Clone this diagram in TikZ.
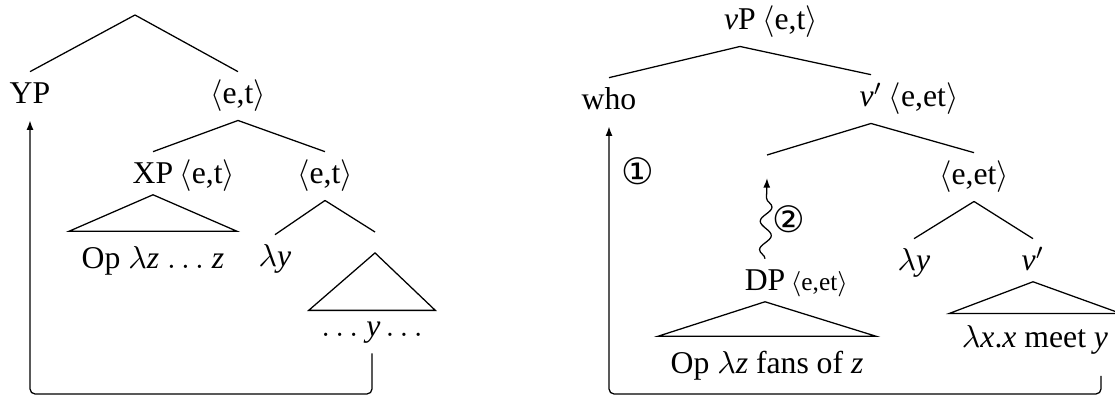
\documentclass[tikz,border=0pt]{standalone}
\usepackage{fontspec}
\setmainfont{Liberation Serif}
\newfontfamily\circfont{DejaVu Sans}
\usetikzlibrary{positioning,arrows.meta,decorations.pathmorphing}

\begin{document}
\begin{tikzpicture}[x=0.3155pt, y=-0.3155pt,
        lab/.style={anchor=base, inner sep=0pt, text height=10pt, text depth=5pt},
        leaf/.style={anchor=base, inner xsep=3.8pt, inner ysep=0pt, text height=#1, text depth=5pt},
        arr/.style={-{Latex[length=3pt,width=2.2pt]}},
        wavy/.style={arr, decorate, decoration={snake, amplitude=1.8pt, segment length=9pt, post length=2.5pt}},
        num/.style={font=\circfont\fontsize{11.5}{12}\selectfont, inner sep=0pt}]
        \useasboundingbox (0,0) rectangle (1115,396);

        \coordinate (lroot) at (135,15);
        \node[lab] (yp) at (30,104) {YP};
        \node[lab] (let) at (238,104) {$\langle$e,t$\rangle$};
        \node[lab] (xp) at (153,184) {XP};
        \node[lab, right=1.6pt of xp] (xpt) {$\langle$e,t$\rangle$};
        \node[lab] (lr) at (325,184) {$\langle$e,t$\rangle$};
        \node[leaf=11.7pt] (opz) at (153,269) {Op $\lambda$\textit{z} $\ldots$\ \textit{z}};
        \node[lab] (ly) at (275,267) {$\lambda$\textit{y}};
        \coordinate (lrr) at (375,232);
        \node[leaf=8.2pt] (ydots) at (372,337) {$\ldots$\ \textit{y}\,$\ldots$};
        \coordinate (lbot) at (30,394);

        \node[lab] (vp) at (740,30) {\textit{v}P};
        \node[lab, right=1.6pt of vp] (vpt) {$\langle$e,t$\rangle$};
        \node[lab] (who) at (609,110) {who};
        \node[lab] (vbar) at (871,107) {\textit{v}$'$};
        \node[lab, right=1.6pt of vbar] (vbart) {$\langle$e,et$\rangle$};
        \coordinate (vl) at (767,155);
        \node[lab] (ret) at (974,185) {$\langle$e,et$\rangle$};
        \node[lab] (dp) at (765,291) {DP};
        \node[lab, right=1.4pt of dp, font=\footnotesize] (dpt) {$\langle$e,et$\rangle$};
        \node[leaf=11.7pt] (fans) at (767,374) {Op $\lambda$\textit{z} fans of \textit{z}};
        \node[lab] (ry) at (914,271) {$\lambda$\textit{y}};
        \node[lab] (vbarr) at (1033,271) {\textit{v}$'$};
        \node[leaf=10.7pt] (meet) at (1035,348) {$\lambda$\textit{x}.\textit{x} meet \textit{y}};
        \coordinate (ytr) at (1101,376);
        \coordinate (rbot) at (609,394);
        \node[num] (one) at (638,171) {①};
        \node[num] (two) at (789,219) {②};

        \draw (lroot) -- (yp.north);
        \draw (lroot) -- (let.north);
        \draw (let.south) -- (xp.north);
        \draw (let.south) -- (lr.north);
        \draw ([yshift=1.8pt]xp.south) -- (opz.north west) -- (opz.north east) -- cycle;
        \draw (lr.south) -- (ly.north);
        \draw (lr.south) -- (lrr);
        \draw ([yshift=-6.6pt]lrr) -- (ydots.north west) -- (ydots.north east) -- cycle;
        \draw[arr, rounded corners=1.6pt] (ydots.south) |- (lbot) -- (yp.south);

        \draw (vp.south) -- (who.north);
        \draw (vp.south) -- (vbar.north);
        \draw (vbar.south) -- (vl);
        \draw (vbar.south) -- (ret.north);
        \draw ([yshift=1.8pt]dp.south) -- (fans.north west) -- (fans.north east) -- cycle;
        \draw (ret.south) -- (ry.north);
        \draw (ret.south) -- (vbarr.north);
        \draw ([yshift=1.8pt]vbarr.south) -- (meet.north west) -- (meet.north east) -- cycle;
        \draw[wavy] (dp.north) -- ([yshift=-7.3pt]vl);
        \draw[arr, rounded corners=1.6pt] (ytr) |- (rbot) -- (who.south);
\end{tikzpicture}
\end{document}
